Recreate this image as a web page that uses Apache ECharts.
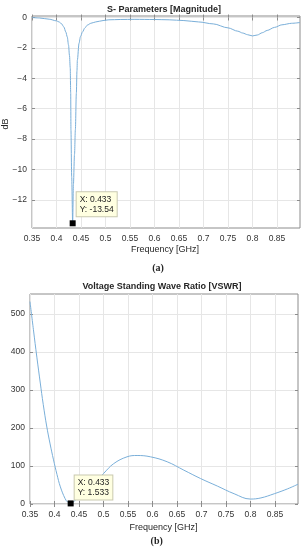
<!DOCTYPE html>
<html><head><meta charset="utf-8">
<script src="https://cdn.jsdelivr.net/npm/echarts@6/dist/echarts.min.js"></script>
<style>html,body{margin:0;padding:0;background:#fff}#c{width:304px;height:550px}</style>
</head><body><div id="c"></div>
<script>
// ---- data ----
const freqA = [0.350,0.365,0.385,0.400,0.405,0.410,0.415,0.419,0.422,0.4245,0.4265,0.428,0.429,0.4295,0.431,0.433,0.4345,0.4368,0.4385,0.4405,0.4418,0.4426,0.446,0.449,0.453,0.458,0.463,0.470,0.480,0.495,0.507,0.530,0.560,0.600,0.630,0.660,0.690,0.720,0.750,0.770,0.780,0.790,0.800,0.810,0.820,0.830,0.845,0.860,0.880,0.897];
const s11dB = [0.00,-0.03,-0.11,-0.22,-0.29,-0.40,-0.62,-0.95,-1.28,-1.80,-2.50,-3.30,-5.00,-7.40,-10.5,-13.54,-11.0,-9.0,-7.4,-5.0,-3.5,-2.8,-1.7,-1.25,-0.95,-0.68,-0.50,-0.38,-0.29,-0.20,-0.15,-0.13,-0.12,-0.13,-0.15,-0.20,-0.29,-0.42,-0.68,-0.90,-1.02,-1.13,-1.21,-1.15,-1.00,-0.85,-0.65,-0.48,-0.38,-0.33];
const freqB = [0.350,0.357,0.364,0.371,0.377,0.384,0.391,0.398,0.405,0.412,0.4217,0.427,0.433,0.439,0.4457,0.466,0.4867,0.500,0.5207,0.548,0.5686,0.596,0.630,0.664,0.698,0.7326,0.7666,0.800,0.8213,0.8486,0.876,0.897];
const vswr = [532,458,386,318,262,205,158,116,78,45,14,5,1.533,6,14,36,62,80,106,124,127.5,124,111,89,67,47,27,13,16,27,40,52];
const xTicks = [0.35,0.4,0.45,0.5,0.55,0.6,0.65,0.7,0.75,0.8,0.85];
const yTicksA = [-12,-10,-8,-6,-4,-2,0];
const yTicksB = [0,100,200,300,400,500];
const tipA = {x: 0.433, y: -13.54};
const tipB = {x: 0.433, y: 1.533};
const titleA = 'S- Parameters [Magnitude]';
const titleB = 'Voltage Standing Wave Ratio [VSWR]';
const xName = 'Frequency [GHz]';
const yNameA = 'dB';

// ---- styling ----
const FONT = '"Liberation Sans", Arial, sans-serif';
const LINE = '#7aafd9';
const BOX = '#8c8c8c';
const GRIDC = '#e6e6e6';
const TXT = '#333';

function fmt(v){ return v < 0 ? '\u2212' + Math.abs(v) : String(v); }

function xAxes(gi, ticks, min, max){
  return [
    {type:'value', gridIndex:gi, position:'bottom', min:min, max:max,
     axisLine:{show:false},
     axisTick:{show:true, inside:true, length:3, customValues:ticks, lineStyle:{color:BOX}},
     axisLabel:{customValues:ticks, margin:6, fontSize:8.5, fontFamily:FONT, color:TXT, formatter:fmt},
     splitLine:{show:true, lineStyle:{color:GRIDC, width:1}}},
    {type:'value', gridIndex:gi, position:'top', min:min, max:max,
     axisLine:{show:false},
     axisTick:{show:true, inside:true, length:3, customValues:ticks, lineStyle:{color:BOX}},
     axisLabel:{show:false}, splitLine:{show:false}}
  ];
}
function yAxes(gi, ticks, min, max){
  return [
    {type:'value', gridIndex:gi, position:'left', min:min, max:max,
     axisLine:{show:false},
     axisTick:{show:true, inside:true, length:3, customValues:ticks, lineStyle:{color:BOX}},
     axisLabel:{customValues:ticks, margin:5, fontSize:8.5, fontFamily:FONT, color:TXT, formatter:fmt},
     splitLine:{show:true, lineStyle:{color:GRIDC, width:1}}},
    {type:'value', gridIndex:gi, position:'right', min:min, max:max,
     axisLine:{show:false},
     axisTick:{show:true, inside:true, length:3, customValues:ticks, lineStyle:{color:BOX}},
     axisLabel:{show:false}, splitLine:{show:false}}
  ];
}
function tip(t, pos, text){
  return {
    symbol:'rect', symbolSize:6, itemStyle:{color:'#000'}, animation:false,
    data:[{coord:[t.x, t.y]}],
    label:{show:true, position:pos, formatter:text, fontSize:8.5, lineHeight:10,
      fontFamily:FONT, color:'#222', backgroundColor:'#ffffe1',
      borderColor:'#c9c9b0', borderWidth:1, padding:[2,3,2,3], align:'left', verticalAlign:'top'}
  };
}
function txt(x, y, text, font, rot){
  return {type:'text', x:x, y:y, rotation:rot||0, z:10,
    style:{text:text, font:font, fill:'#262626', align:'center', verticalAlign:'middle'}};
}

const chart = echarts.init(document.getElementById('c'), null, {renderer:'canvas'});
chart.setOption({
  animation:false,
  backgroundColor:'#fff',
  grid:[
    {left:32, top:16, width:268, height:212, show:true, borderColor:BOX, borderWidth:1, backgroundColor:'transparent'},
    {left:30, top:294, width:268, height:210, show:true, borderColor:BOX, borderWidth:1, backgroundColor:'transparent'}
  ],
  xAxis:[].concat(xAxes(0, xTicks, 0.35, 0.897), xAxes(1, xTicks, 0.35, 0.897)),
  yAxis:[].concat(yAxes(0, yTicksA, -13.85, 0.1), yAxes(1, yTicksB, 0, 552)),
  series:[
    {type:'line', xAxisIndex:0, yAxisIndex:0, data:freqA.map((f,i)=>[f, s11dB[i]]),
     showSymbol:false, smooth:0.3, smoothMonotone:'x', lineStyle:{color:LINE, width:1},
     markPoint:tip(tipA, [7,-28], 'X: ' + tipA.x + '\nY: ' + tipA.y)},
    {type:'line', xAxisIndex:2, yAxisIndex:2, data:freqB.map((f,i)=>[f, vswr[i]]),
     showSymbol:false, smooth:0.4, lineStyle:{color:LINE, width:1},
     markPoint:tip(tipB, [7,-25], 'X: ' + tipB.x + '\nY: ' + tipB.y)}
  ],
  graphic:[
    txt(164, 9.5, titleA, 'bold 9px ' + FONT),
    txt(165, 249.5, xName, '9px ' + FONT),
    txt(6, 124, yNameA, '9px ' + FONT, Math.PI/2),
    txt(158, 268.5, '(a)', 'bold 10px "Liberation Serif", "Times New Roman", serif'),
    txt(162, 286.5, titleB, 'bold 9px ' + FONT),
    txt(163.5, 527.7, xName, '9px ' + FONT),
    txt(156.7, 541.7, '(b)', 'bold 10px "Liberation Serif", "Times New Roman", serif')
  ]
});
</script>
</body></html>
